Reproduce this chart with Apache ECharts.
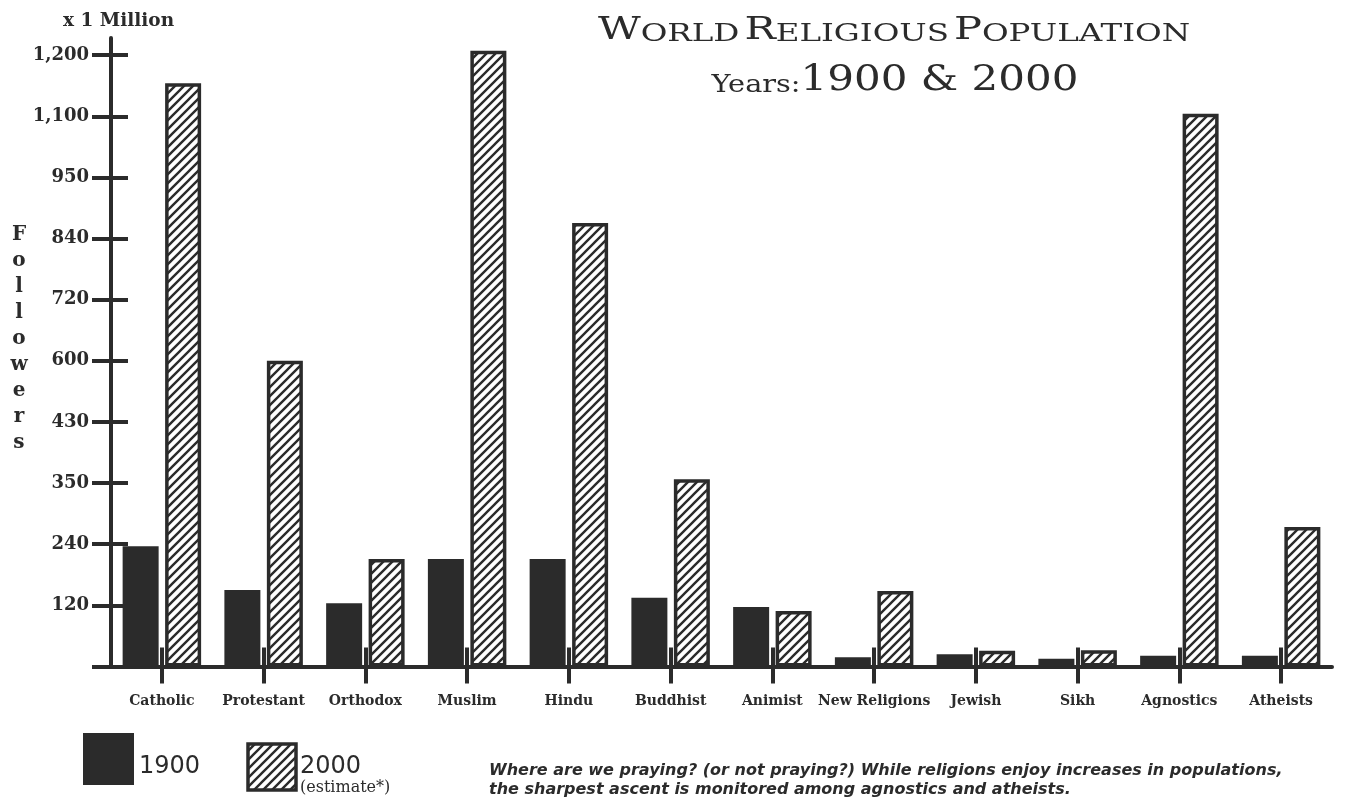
<!DOCTYPE html>
<html>
<head>
<meta charset="utf-8">
<title>World Religious Population</title>
<script src="https://cdn.jsdelivr.net/npm/echarts@6/dist/echarts.min.js"></script>
<style>
  html, body { margin: 0; padding: 0; background: #ffffff; }
  #chart { width: 1358px; height: 805px; }
</style>
</head>
<body>
<div id="chart"></div>
<script>
// Religions on the category axis
const categories = ['Catholic', 'Protestant', 'Orthodox', 'Muslim', 'Hindu', 'Buddhist',
  'Animist', 'New Religions', 'Jewish', 'Sikh', 'Agnostics', 'Atheists'];

// Followers, in millions
const followers1900 = [236, 150, 124, 211, 211, 135, 117, 18, 24, 15, 21, 21];
const followers2000 = [1154, 600, 211, 1207, 868, 355, 109, 148, 31, 32, 1104, 271];

// The vertical axis is drawn with evenly spaced, unevenly valued ticks
const tickValues = [0, 120, 240, 350, 430, 600, 720, 840, 950, 1100, 1200];
const tickLabels = ['0', '120', '240', '350', '430', '600', '720', '840', '950', '1,100', '1,200'];

const INK = '#2b2b2b';
const SERIF = '"DejaVu Serif", "Liberation Serif", serif';
const SANS = '"DejaVu Sans", "Liberation Sans", sans-serif';

// Piecewise map from millions to the evenly spaced tick slots
function toSlot(v) {
  for (let i = 1; i < tickValues.length; i++) {
    if (v <= tickValues[i]) {
      const a = tickValues[i - 1], b = tickValues[i];
      return (i - 1) + (v - a) / (b - a);
    }
  }
  const n = tickValues.length - 1;
  return n + (v - tickValues[n]) / (tickValues[n] - tickValues[n - 1]);
}

// Diagonal hatch tile for the 2000 bars
function hatchTile() {
  const s = 9;
  const c = document.createElement('canvas');
  c.width = s; c.height = s;
  const g = c.getContext('2d');
  g.fillStyle = '#ffffff';
  g.fillRect(0, 0, s, s);
  g.strokeStyle = INK;
  g.lineWidth = 2.4;
  g.beginPath();
  g.moveTo(-2, s + 2); g.lineTo(s + 2, -2);
  g.moveTo(-2, 2); g.lineTo(2, -2);
  g.moveTo(s - 2, s + 2); g.lineTo(s + 2, s - 2);
  g.stroke();
  return c;
}
const hatch = { image: hatchTile(), repeat: 'repeat' };

const slotTicks = tickValues.map((_, i) => i);
const slotLabels = slotTicks.slice(1);

const chart = echarts.init(document.getElementById('chart'), null, { renderer: 'canvas' });

const yMax = 10.28;

chart.setOption({
  animation: false,
  backgroundColor: '#ffffff',
  grid: { left: 111, right: 26, top: 38, bottom: 138.5, containLabel: false },
  xAxis: [
    {
      type: 'category',
      data: categories,
      position: 'bottom',
      axisLine: { show: true, lineStyle: { color: INK, width: 4 } },
      axisTick: { show: true, alignWithLabel: true, length: 17, lineStyle: { color: INK, width: 4 } },
      axisLabel: {
        interval: 0, margin: 28, color: INK,
        fontFamily: SERIF, fontSize: 14, fontWeight: 'bold'
      },
      splitLine: { show: false }
    },
    {
      type: 'category',
      data: categories,
      position: 'bottom',
      axisLine: { show: false },
      axisTick: { show: true, inside: true, alignWithLabel: true, length: 19, lineStyle: { color: INK, width: 4 } },
      axisLabel: { show: false },
      splitLine: { show: false }
    }
  ],
  yAxis: [
    {
      type: 'value',
      position: 'left',
      min: 0,
      max: yMax,
      axisLine: { show: true, lineStyle: { color: INK, width: 4 } },
      axisTick: { show: true, length: 19, customValues: slotTicks, lineStyle: { color: INK, width: 4 } },
      axisLabel: {
        customValues: slotLabels,
        margin: 22, color: INK,
        fontFamily: SERIF, fontSize: 18, fontWeight: 'bold',
        formatter: (v) => tickLabels[Math.round(v)]
      },
      splitLine: { show: false }
    },
    {
      type: 'value',
      position: 'left',
      min: 0,
      max: yMax,
      axisLine: { show: false },
      axisTick: { show: true, inside: true, length: 17, customValues: slotTicks, lineStyle: { color: INK, width: 4 } },
      axisLabel: { show: false },
      splitLine: { show: false }
    }
  ],
  series: [
    {
      name: '1900',
      type: 'bar',
      xAxisIndex: 0,
      yAxisIndex: 0,
      barWidth: 36,
      barGap: '18%',
      itemStyle: { color: INK },
      emphasis: { disabled: true },
      data: followers1900.map(toSlot)
    },
    {
      name: '2000',
      type: 'bar',
      xAxisIndex: 0,
      yAxisIndex: 0,
      barWidth: 36,
      barGap: '18%',
      itemStyle: { color: hatch, borderColor: INK, borderWidth: 3.5 },
      emphasis: { disabled: true },
      data: followers2000.map(toSlot)
    }
  ],
  graphic: [
    // Title, set in small capitals
    {
      type: 'text',
      x: 894, y: 47, scaleX: 1.3, scaleY: 1,
      style: {
        x: 0, y: 0,
        text: '{b|W}{s|ORLD} {b|R}{s|ELIGIOUS} {b|P}{s|OPULATION}',
        align: 'center', verticalAlign: 'bottom',
        fill: INK, fontFamily: SERIF,
        rich: {
          b: { fontSize: 32, lineHeight: 32, verticalAlign: 'bottom', fontFamily: SERIF, fill: INK },
          s: { fontSize: 25, lineHeight: 25, verticalAlign: 'bottom', fontFamily: SERIF, fill: INK }
        }
      }
    },
    {
      type: 'text',
      x: 895, y: 98, scaleX: 1.2, scaleY: 1,
      style: {
        x: 0, y: 0,
        text: '{s|Years:}{b|1900 & 2000}',
        align: 'center', verticalAlign: 'bottom',
        fill: INK, fontFamily: SERIF,
        rich: {
          s: { fontSize: 24, lineHeight: 24, verticalAlign: 'bottom', fontFamily: SERIF, fill: INK },
          b: { fontSize: 35, lineHeight: 35, verticalAlign: 'bottom', fontFamily: SERIF, fill: INK }
        }
      }
    },
    // Unit note above the vertical axis
    {
      type: 'text',
      x: 63, y: 21,
      style: {
        text: 'x 1 Million', align: 'left', verticalAlign: 'middle',
        fill: INK, fontFamily: SERIF, fontSize: 18.5, fontWeight: 'bold'
      }
    },
    // Vertical axis name, one letter per line
    {
      type: 'text',
      x: 19, y: 222,
      style: {
        text: 'Followers'.split('').join('\n'),
        align: 'center', verticalAlign: 'top', lineHeight: 26,
        fill: INK, fontFamily: SERIF, fontSize: 20, fontWeight: 'bold'
      }
    },
    // Legend
    {
      type: 'rect',
      shape: { x: 83, y: 733, width: 51, height: 52 },
      style: { fill: INK }
    },
    {
      type: 'text',
      x: 139, y: 767,
      style: {
        text: '1900', align: 'left', verticalAlign: 'middle',
        fill: INK, fontFamily: SANS, fontSize: 24
      }
    },
    {
      type: 'rect',
      shape: { x: 248, y: 744, width: 48, height: 46 },
      style: { fill: hatch, stroke: INK, lineWidth: 3.5 }
    },
    {
      type: 'text',
      x: 300, y: 767,
      style: {
        text: '2000', align: 'left', verticalAlign: 'middle',
        fill: INK, fontFamily: SANS, fontSize: 24
      }
    },
    {
      type: 'text',
      x: 300, y: 788,
      style: {
        text: '(estimate*)', align: 'left', verticalAlign: 'middle',
        fill: INK, fontFamily: SERIF, fontSize: 16
      }
    },
    // Note under the chart
    {
      type: 'text',
      x: 489, y: 761,
      style: {
        text: 'Where are we praying? (or not praying?) While religions enjoy increases in populations,\nthe sharpest ascent is monitored among agnostics and atheists.',
        align: 'left', verticalAlign: 'top', lineHeight: 19,
        fill: INK, fontFamily: SANS, fontSize: 16, fontStyle: 'italic', fontWeight: 'bold'
      }
    }
  ]
});
</script>
</body>
</html>
